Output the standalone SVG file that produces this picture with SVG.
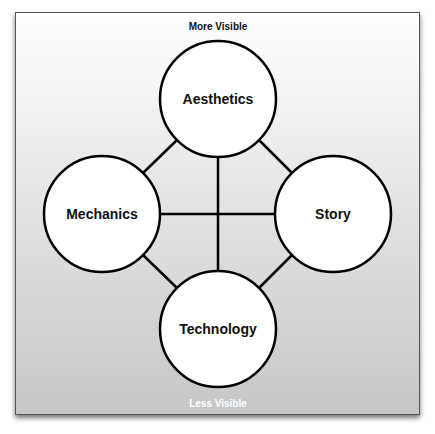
<svg xmlns="http://www.w3.org/2000/svg" width="435" height="434" viewBox="0 0 435 434">
<defs>
<linearGradient id="bg" x1="0" y1="0" x2="0" y2="1">
<stop offset="0" stop-color="#ffffff"/>
<stop offset="1" stop-color="#c6c6c6"/>
</linearGradient>
<filter id="sh" x="-10%" y="-10%" width="120%" height="120%">
<feDropShadow dx="0" dy="3" stdDeviation="2.5" flood-color="#000" flood-opacity="0.55"/>
</filter>
<style>
.node circle{fill:#fff;stroke:#000;stroke-width:2.5}
.node text{font-family:"Liberation Sans",Arial,sans-serif;font-weight:bold;font-size:14px;text-anchor:middle;fill:#111}
#connectors line{stroke:#000;stroke-width:2.5}
.cap{font-family:"Liberation Sans",Arial,sans-serif;font-weight:bold;font-size:10px;text-anchor:middle}
</style>
</defs>
<rect x="15.5" y="12.5" width="404" height="402" fill="url(#bg)" stroke="#555" stroke-width="1" filter="url(#sh)"/>
<text class="cap" x="218" y="30" fill="#111">More Visible</text>
<text class="cap" x="218" y="407" fill="#fff">Less Visible</text>
<g id="connectors">
<line x1="218" y1="157" x2="218" y2="271"/>
<line x1="160" y1="214" x2="275" y2="214"/>
<line x1="177" y1="140" x2="143" y2="173"/>
<line x1="259" y1="140" x2="292" y2="173"/>
<line x1="143" y1="255" x2="177" y2="288"/>
<line x1="292" y1="255" x2="259" y2="288"/>
</g>
<g id="aesthetics" class="node"><circle cx="218" cy="99" r="58"/><text x="218" y="104">Aesthetics</text></g>
<g id="mechanics" class="node"><circle cx="102" cy="214" r="58"/><text x="102" y="219">Mechanics</text></g>
<g id="story" class="node"><circle cx="333" cy="214" r="58"/><text x="333" y="219">Story</text></g>
<g id="technology" class="node"><circle cx="218" cy="329" r="58"/><text x="218" y="334">Technology</text></g>
</svg>
